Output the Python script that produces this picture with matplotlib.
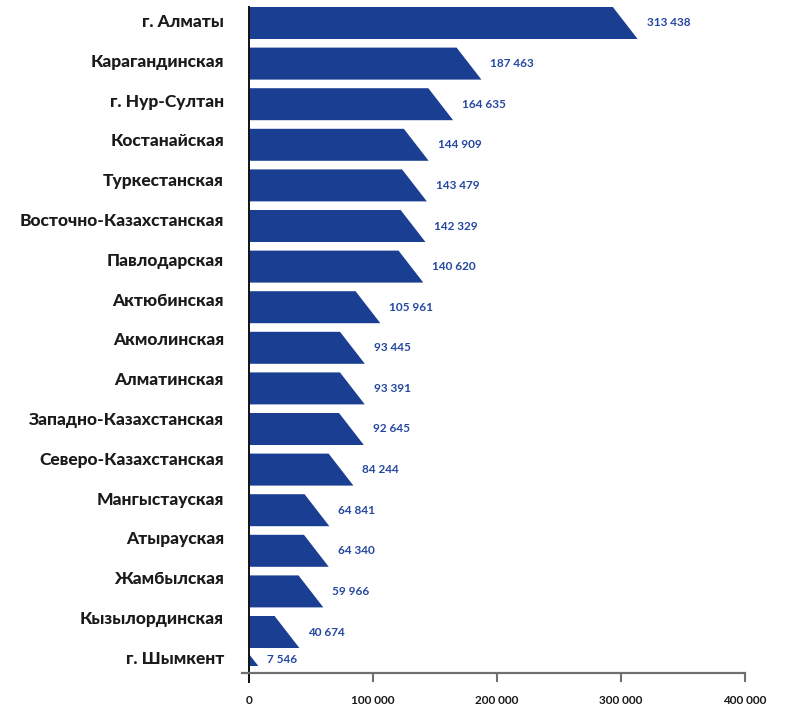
import numpy as np
import matplotlib
matplotlib.use('Agg')
import matplotlib.pyplot as plt
from matplotlib.patches import Polygon

regions = ['г. Алматы', 'Карагандинская', 'г. Нур-Султан', 'Костанайская',
           'Туркестанская', 'Восточно-Казахстанская', 'Павлодарская',
           'Актюбинская', 'Акмолинская', 'Алматинская', 'Западно-Казахстанская',
           'Северо-Казахстанская', 'Мангыстауская', 'Атырауская', 'Жамбылская',
           'Кызылординская', 'г. Шымкент']
values = [313438, 187463, 164635, 144909, 143479, 142329, 140620, 105961,
          93445, 93391, 92645, 84244, 64841, 64340, 59966, 40674, 7546]
xticks = [0, 100000, 200000, 300000, 400000]

bar_color = '#1a3f92'
label_color = '#2447a0'

plt.rcParams['font.family'] = ['Lato', 'DejaVu Sans']

fig = plt.figure(figsize=(7.85, 7.07), dpi=100)
# y axis works in pixel-like units, top = 0, axis line = 673
ax = fig.add_axes([242 / 785, 1 - 673 / 707, 503 / 785, 673 / 707])
ax.set_xlim(-5600, 400000)
ax.set_ylim(673, 0)

n = len(values)
bar_h = 32
slant = 20000  # horizontal run of the cut end
centers = 23 + 40.6 * np.arange(n)
centers[-1] = 650
label_pos = 22 + 39.8 * np.arange(n)

for c, v in zip(centers, values):
    top, bot = c - bar_h / 2, c + bar_h / 2
    if v > slant:
        pts = [(0, bot), (v, bot), (v - slant, top), (0, top)]
        ytxt = c
    else:
        rise = bar_h * v / slant
        pts = [(0, bot), (v, bot), (0, bot - rise)]
        ytxt = bot - rise / 2
    ax.add_patch(Polygon(pts, closed=True, facecolor=bar_color, edgecolor='none'))
    ax.annotate(f'{v:,}'.replace(',', ' '), xy=(v, ytxt), xytext=(6.5, 0),
                textcoords='offset points', ha='left', va='center',
                fontsize=8.5, fontweight='bold', color=label_color)

ax.set_yticks([])
for y, name in zip(label_pos, regions):
    ax.annotate(name, xy=(0, y), xytext=(-18, 0), textcoords='offset points',
                ha='right', va='center', fontsize=12.5, fontweight='black',
                color='#1a1a1a')

ax.set_xticks(xticks)
ax.set_xticklabels([f'{t:,}'.replace(',', ' ') for t in xticks],
                   fontsize=8.5, fontweight='bold', color='#1a1a1a')
ax.tick_params(axis='x', length=6.5, width=1.5, color='#707070', pad=9)

for s in ['top', 'right']:
    ax.spines[s].set_visible(False)
ax.spines['bottom'].set_color('#707070')
ax.spines['bottom'].set_linewidth(1.6)
ax.spines['left'].set_position(('data', 0))
ax.spines['left'].set_bounds(682, 7)
ax.spines['left'].set_color('#111111')
ax.spines['left'].set_linewidth(1.4)
ax.spines['left'].set_clip_on(False)

fig.savefig('out.png', dpi=100)
